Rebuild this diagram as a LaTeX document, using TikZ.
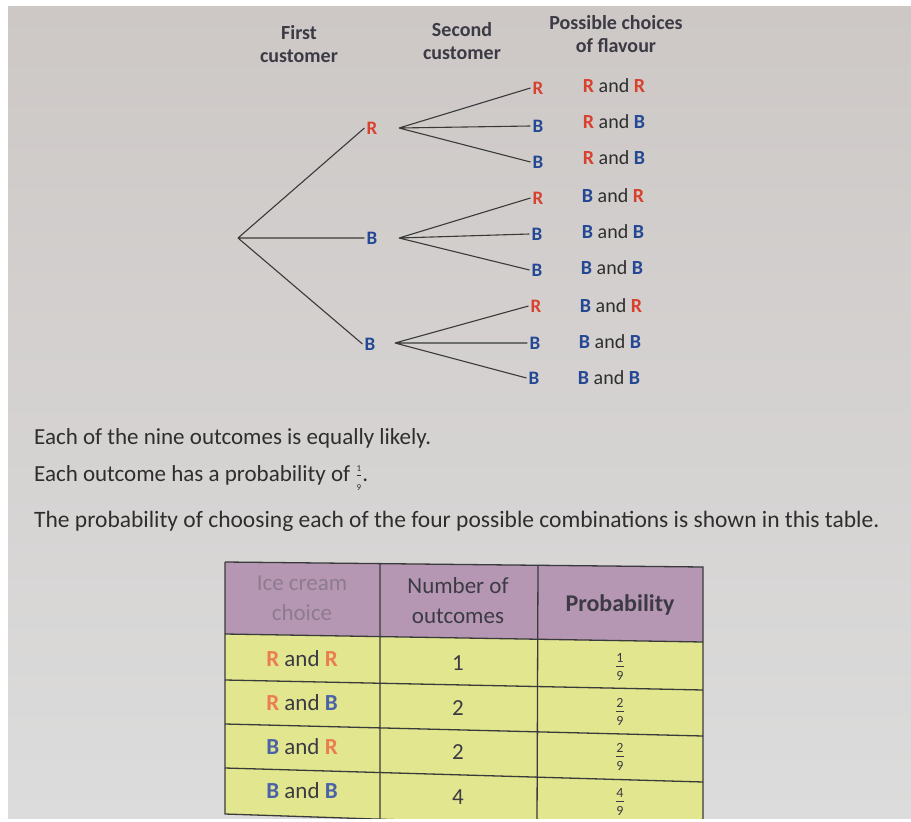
\documentclass[tikz,border=0pt]{standalone}
\usepackage{fontspec}
\setmainfont{Carlito}
\definecolor{pgtop}{HTML}{CDC8C6}
\definecolor{pgbot}{HTML}{DCDCDC}
\definecolor{treered}{HTML}{D8412E}
\definecolor{treeblue}{HTML}{244894}
\definecolor{tabred}{HTML}{EA7E52}
\definecolor{tabblue}{HTML}{4A62A8}
\definecolor{ink}{HTML}{2E2E2E}
\definecolor{hdrink}{HTML}{3C3A44}
\definecolor{fadeink}{HTML}{8E7C8E}
\definecolor{hdrfill}{HTML}{B597B4}
\definecolor{bodyfill}{HTML}{E2E68E}
\definecolor{treeline}{HTML}{3A3A3A}
\newcommand{\tR}{\textcolor{treered}{\bfseries R}}
\newcommand{\tB}{\textcolor{treeblue}{\bfseries B}}
\newcommand{\kR}{\textcolor{tabred}{\bfseries R}}
\newcommand{\kB}{\textcolor{tabblue}{\bfseries B}}
\newcommand{\myfr}[3]{\ensuremath{\frac{\mbox{\fontsize{#1}{#1}\selectfont #2}}{\mbox{\fontsize{#1}{#1}\selectfont #3}}}}
\tikzset{
  lab/.style={font=\bfseries\fontsize{19}{19}\selectfont, inner sep=2pt},
  outc/.style={font=\fontsize{20}{20}\selectfont, text=ink},
  hdr/.style={font=\bfseries\fontsize{20}{23}\selectfont, text=hdrink, align=center},
  branch/.style={draw=treeline, line width=1.1pt},
  body/.style={font=\fontsize{23}{23}\selectfont, text=ink, anchor=west, inner sep=0pt},
  tabtxt/.style={font=\fontsize{23}{30}\selectfont, text=hdrink, align=center},
  tabline/.style={draw=treeline, line width=1.3pt},
}
\begin{document}
\begin{tikzpicture}[x=1pt,y=-1pt]
\useasboundingbox (0,0) rectangle (911,822);
\fill[white] (0,0) rectangle (911,822);
\shade[top color=pgtop, bottom color=pgbot] (8,6) rectangle (911,818);

% headers
\node[hdr] (h1) at (299,44) {First\\customer};
\node[hdr] (h2) at (462,41) {Second\\customer};
\node[hdr] (h3) at (616,34) {Possible choices\\of flavour};

% tree
\coordinate (root) at (238,238);
\node[lab, text=treered]  (r1) at (372,128) {R};
\node[lab, text=treeblue] (b1) at (372,238) {B};
\node[lab, text=treeblue] (b2) at (370,344) {B};
\coordinate (r1o) at (399,128);
\coordinate (b1o) at (399,238);
\coordinate (b2o) at (395,343);

\node[lab, text=treered]  (n1) at (538,88)  {R};
\node[lab, text=treeblue] (n2) at (538,126) {B};
\node[lab, text=treeblue] (n3) at (538,162) {B};
\node[lab, text=treered]  (n4) at (538,198) {R};
\node[lab, text=treeblue] (n5) at (537,234) {B};
\node[lab, text=treeblue] (n6) at (537,270) {B};
\node[lab, text=treered]  (n7) at (536,306) {R};
\node[lab, text=treeblue] (n8) at (535,343) {B};
\node[lab, text=treeblue] (n9) at (534,378) {B};

\path[branch] (root) -- (r1.west) (root) -- (b1.west) (root) -- (b2.west);
\path[branch] (r1o) -- (n1.west) (r1o) -- (n2.west) (r1o) -- (n3.west);
\path[branch] (b1o) -- (n4.west) (b1o) -- (n5.west) (b1o) -- (n6.west);
\path[branch] (b2o) -- (n7.west) (b2o) -- (n8.west) (b2o) -- (n9.west);

\node[outc] (o1) at (614,86)  {\tR{} and \tR};
\node[outc] (o2) at (614,122) {\tR{} and \tB};
\node[outc] (o3) at (614,158) {\tR{} and \tB};
\node[outc] (o4) at (613,196) {\tB{} and \tR};
\node[outc] (o5) at (613,232) {\tB{} and \tB};
\node[outc] (o6) at (612,268) {\tB{} and \tB};
\node[outc] (o7) at (611,306) {\tB{} and \tR};
\node[outc] (o8) at (610,342) {\tB{} and \tB};
\node[outc] (o9) at (609,378) {\tB{} and \tB};

% body text
\node[body] (t1) at (34,438) {Each of the nine outcomes is equally likely.};
\node[body] (t2) at (34,478) {Each outcome has a probability of \myfr{9}{1}{9}.};
\node[body, font=\fontsize{23.5}{23.5}\selectfont] (t3) at (34,521) {The probability of choosing each of the four possible combinations is shown in this table.};

% table
\begin{scope}
\clip (8,6) rectangle (911,818);
\fill[hdrfill] (225,562) -- (703,567) -- (703,642) -- (225,634) -- cycle;
\fill[bodyfill] (225,634) -- (703,642) -- (703,830) -- (225,814) -- cycle;
\draw[tabline] (225,562) -- (703,567) -- (703,830) (225,562) -- (225,814) -- (703,830);
\draw[tabline] (225,634) -- (703,642);
\draw[tabline] (225,680) -- (703,690);
\draw[tabline] (225,724) -- (703,736);
\draw[tabline] (225,768) -- (703,782);
\draw[tabline] (380,563) -- (380,820) (538,565) -- (537,825);
\end{scope}

\node[tabtxt, text=fadeink] (c1) at (302,598) {Ice cream\\choice};
\node[tabtxt] (c2) at (458,601) {Number of\\outcomes};
\node[tabtxt, font=\bfseries\fontsize{24}{28}\selectfont] (c3) at (620,605) {Probability};

\node[tabtxt] (a1) at (302,659) {\kR{} and \kR};
\node[tabtxt] (a2) at (302,703) {\kR{} and \kB};
\node[tabtxt] (a3) at (302,747) {\kB{} and \kR};
\node[tabtxt] (a4) at (302,791) {\kB{} and \kB};

\node[tabtxt] (b1c) at (458,663) {1};
\node[tabtxt] (b2c) at (458,708) {2};
\node[tabtxt] (b3c) at (458,752) {2};
\node[tabtxt] (b4c) at (458,797) {4};

\node[tabtxt] (f1) at (620,667) {\myfr{14}{1}{9}};
\node[tabtxt] (f2) at (620,712) {\myfr{14}{2}{9}};
\node[tabtxt] (f3) at (620,757) {\myfr{14}{2}{9}};
\node[tabtxt] (f4) at (620,802) {\myfr{14}{4}{9}};
\end{tikzpicture}
\end{document}
